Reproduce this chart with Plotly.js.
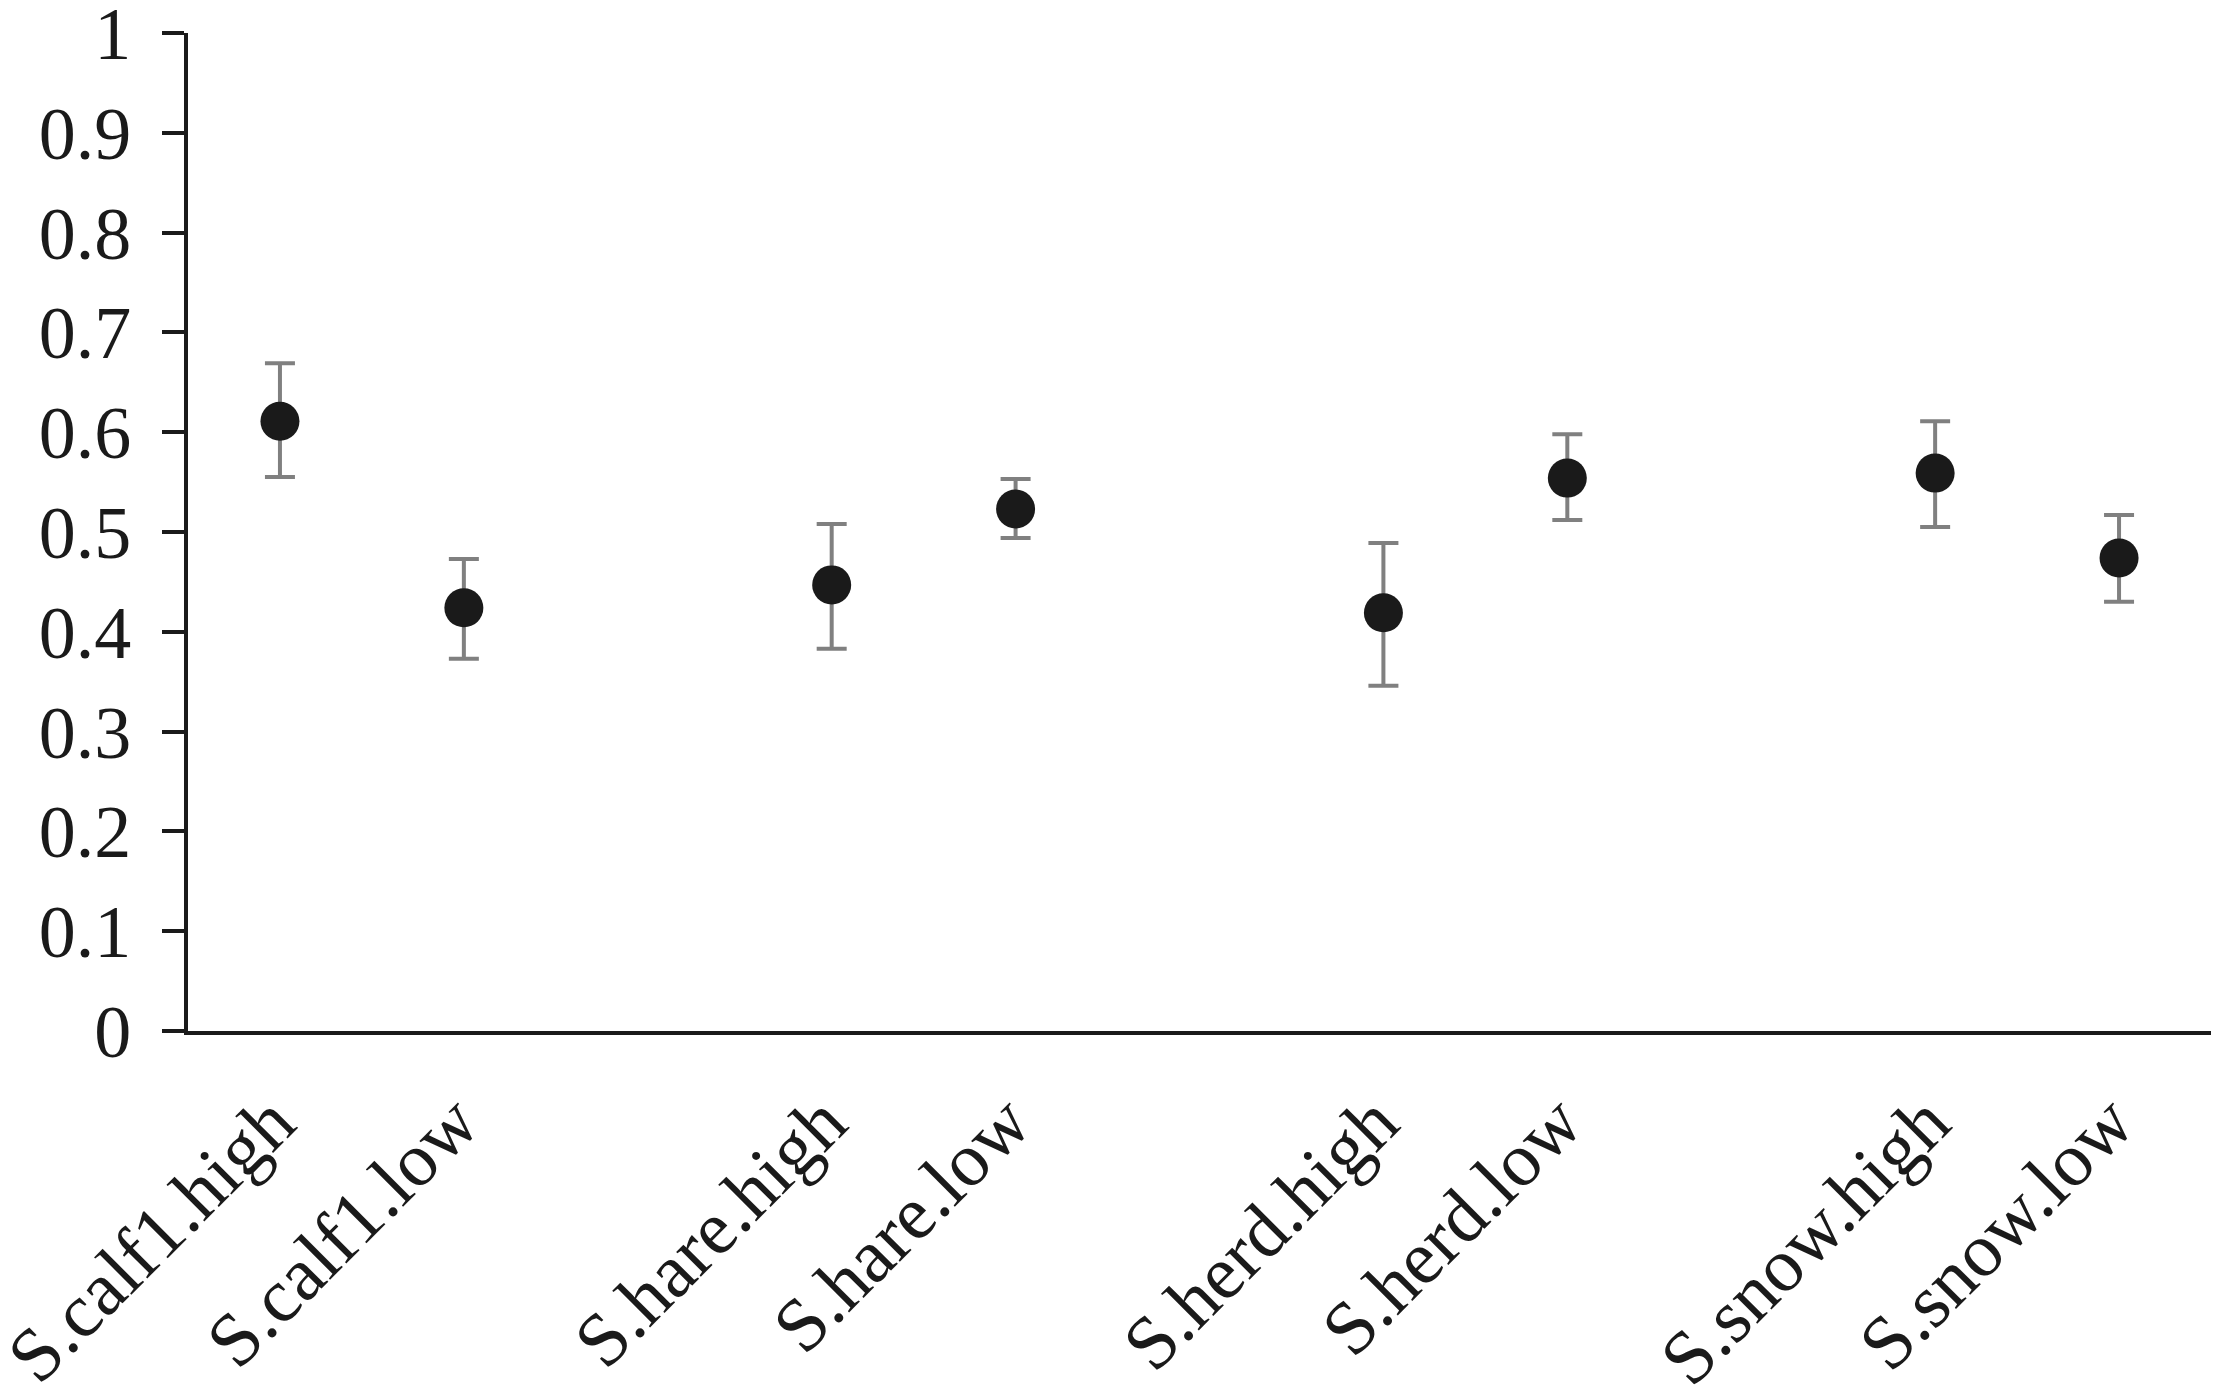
<!DOCTYPE html>
<html>
<head>
<meta charset="utf-8">
<script src="https://cdn.plot.ly/plotly-3.0.1.min.js"></script>
<style>
  html, body { margin: 0; padding: 0; background: #fff; }
  #chart { width: 2217px; height: 1400px; }
</style>
</head>
<body>
<div id="chart"></div>
<script>
// Survival estimates by group and level, with upper/lower error values
const groups = ['calf1', 'hare', 'herd', 'snow'];
const levels = ['high', 'low'];

const means = [0.611, 0.424, 0.447, 0.523, 0.419, 0.554, 0.559, 0.474];
const upper = [0.669, 0.473, 0.508, 0.553, 0.489, 0.598, 0.611, 0.517];
const lower = [0.555, 0.373, 0.383, 0.494, 0.346, 0.512, 0.505, 0.430];

// one empty slot between groups, as in the original category axis
const slots = [], labels = [];
groups.forEach((g, gi) => {
  levels.forEach((l, li) => {
    slots.push(gi * 3 + li);
    labels.push(`S.${g}.${l}`);
  });
});

const serif = 'Liberation Serif, Times New Roman, serif';

const trace = {
  type: 'scatter', mode: 'markers',
  x: slots, y: means,
  marker: { size: 39, color: '#1a1a1a' },
  error_y: {
    type: 'data', symmetric: false,
    array: upper.map((u, i) => u - means[i]),
    arrayminus: lower.map((d, i) => means[i] - d),
    color: '#808080', thickness: 4, width: 15,
  },
  hoverinfo: 'skip',
};

const layout = {
  width: 2217, height: 1400,
  margin: { l: 188, r: 6, t: 33, b: 369 },
  paper_bgcolor: '#fff', plot_bgcolor: '#fff',
  showlegend: false,
  xaxis: {
    range: [-0.5, 10.5],
    tickmode: 'array', tickvals: slots, ticktext: labels,
    tickangle: -45, ticks: '',
    ticklabelstandoff: 12, ticklabelshift: -8,
    ticklabeloverflow: 'allow',
    tickfont: { family: serif, size: 76, color: '#1a1a1a' },
    showgrid: false, zeroline: false,
    showline: true, linecolor: '#1a1a1a', linewidth: 4,
  },
  yaxis: {
    range: [0, 1], dtick: 0.1, tick0: 0,
    ticks: 'outside', ticklen: 22, tickwidth: 4, tickcolor: '#1a1a1a',
    ticklabelstandoff: 16, ticklabeloverflow: 'allow',
    tickfont: { family: serif, size: 74, color: '#1a1a1a' },
    showgrid: false, zeroline: false,
    showline: true, linecolor: '#1a1a1a', linewidth: 4,
  },
};

Plotly.newPlot('chart', [trace], layout, { displayModeBar: false, staticPlot: true });
</script>
</body>
</html>
